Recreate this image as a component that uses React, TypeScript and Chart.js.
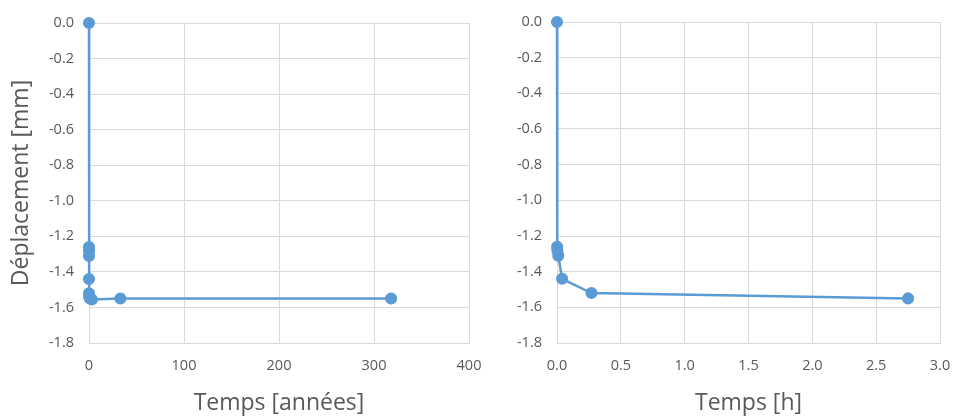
import React, { useEffect, useRef } from "react";
import { Chart, registerables } from "chart.js";

Chart.register(...registerables);

// Left chart: time in years
const yearsX = [0, 0, 0, 0, 0, 0, 0.1, 1, 3, 33, 318];
const yearsY = [0, -1.26, -1.28, -1.31, -1.44, -1.52, -1.54, -1.55, -1.555, -1.55, -1.55];

// Right chart: time in hours
const hoursX = [0, 0.001, 0.003, 0.01, 0.04, 0.27, 2.75];
const hoursY = [0, -1.26, -1.28, -1.31, -1.44, -1.52, -1.55];

const yTicks = [0, -0.2, -0.4, -0.6, -0.8, -1.0, -1.2, -1.4, -1.6, -1.8];

const BLUE = "#5B9BD5";
const GRID = "#D9D9D9";
const TEXT = "#595959";
const FONT = "'Open Sans', 'Noto Sans', sans-serif";

type Cfg = {
  xs: number[];
  ys: number[];
  xMax: number;
  xStep: number;
  xDecimals: number;
  xTitle: string;
  yTitle: string | null;
  yWidth: number;
  padRight: number;
  padTop: number;
};

function makeChart(canvas: HTMLCanvasElement, c: Cfg) {
  return new Chart(canvas, {
    type: "scatter",
    data: {
      datasets: [
        {
          data: c.xs.map((x, i) => ({ x, y: c.ys[i] })),
          showLine: true,
          clip: false,
          borderColor: BLUE,
          backgroundColor: BLUE,
          borderWidth: 2.5,
          pointRadius: 4.8,
          pointBackgroundColor: BLUE,
          pointBorderColor: BLUE,
          tension: 0,
        },
      ],
    },
    options: {
      animation: false,
      responsive: false,
      maintainAspectRatio: false,
      layout: { padding: { left: 0, right: c.padRight, top: c.padTop, bottom: 0 } },
      plugins: { legend: { display: false }, tooltip: { enabled: false } },
      scales: {
        x: {
          type: "linear",
          min: 0,
          max: c.xMax,
          ticks: {
            stepSize: c.xStep,
            color: TEXT,
            font: { family: FONT, size: 14.5 },
            padding: 14,
            callback: (v: any) => Number(v).toFixed(c.xDecimals),
          },
          grid: { color: GRID, lineWidth: 1, drawTicks: false },
          border: { color: GRID, width: 1 },
          title: {
            display: true,
            text: c.xTitle,
            color: TEXT,
            font: { family: FONT, size: 23 },
            padding: { top: 4, bottom: 0 },
          },
          afterFit: (s: any) => {
            s.height = 74;
            s.paddingLeft = 0;
            s.paddingRight = 0;
          },
        },
        y: {
          type: "linear",
          min: -1.8,
          max: 0,
          afterBuildTicks: (s: any) => {
            s.ticks = yTicks.map((v) => ({ value: v }));
          },
          ticks: {
            color: TEXT,
            font: { family: FONT, size: 14.5 },
            padding: 15,
            callback: (v: any) => Number(v).toFixed(1),
          },
          grid: { color: GRID, lineWidth: 1, drawTicks: false },
          border: { color: GRID, width: 1 },
          title: {
            display: !!c.yTitle,
            text: c.yTitle || "",
            color: TEXT,
            font: { family: FONT, size: 23 },
            padding: { top: 8, bottom: 4 },
          },
          afterFit: (s: any) => {
            s.width = c.yWidth;
            s.paddingTop = 0;
            s.paddingBottom = 0;
          },
        },
      },
    },
  } as any);
}

export default function App() {
  const leftRef = useRef<HTMLCanvasElement>(null);
  const rightRef = useRef<HTMLCanvasElement>(null);

  useEffect(() => {
    const a = makeChart(leftRef.current!, {
      xs: yearsX,
      ys: yearsY,
      xMax: 400,
      xStep: 100,
      xDecimals: 0,
      xTitle: "Temps [années]",
      yTitle: "Déplacement [mm]",
      yWidth: 89,
      padRight: 23,
      padTop: 23,
    });
    const b = makeChart(rightRef.current!, {
      xs: hoursX,
      ys: hoursY,
      xMax: 3,
      xStep: 0.5,
      xDecimals: 1,
      xTitle: "Temps [h]",
      yTitle: null,
      yWidth: 79,
      padRight: 15,
      padTop: 22,
    });
    return () => {
      a.destroy();
      b.destroy();
    };
  }, []);

  return (
    <div style={{ position: "absolute", left: 0, top: 0, width: 955, height: 417, background: "#fff" }}>
      <canvas ref={leftRef} width={492} height={417} style={{ position: "absolute", left: 0, top: 0 }} />
      <canvas ref={rightRef} width={477} height={417} style={{ position: "absolute", left: 478, top: 0 }} />
    </div>
  );
}
